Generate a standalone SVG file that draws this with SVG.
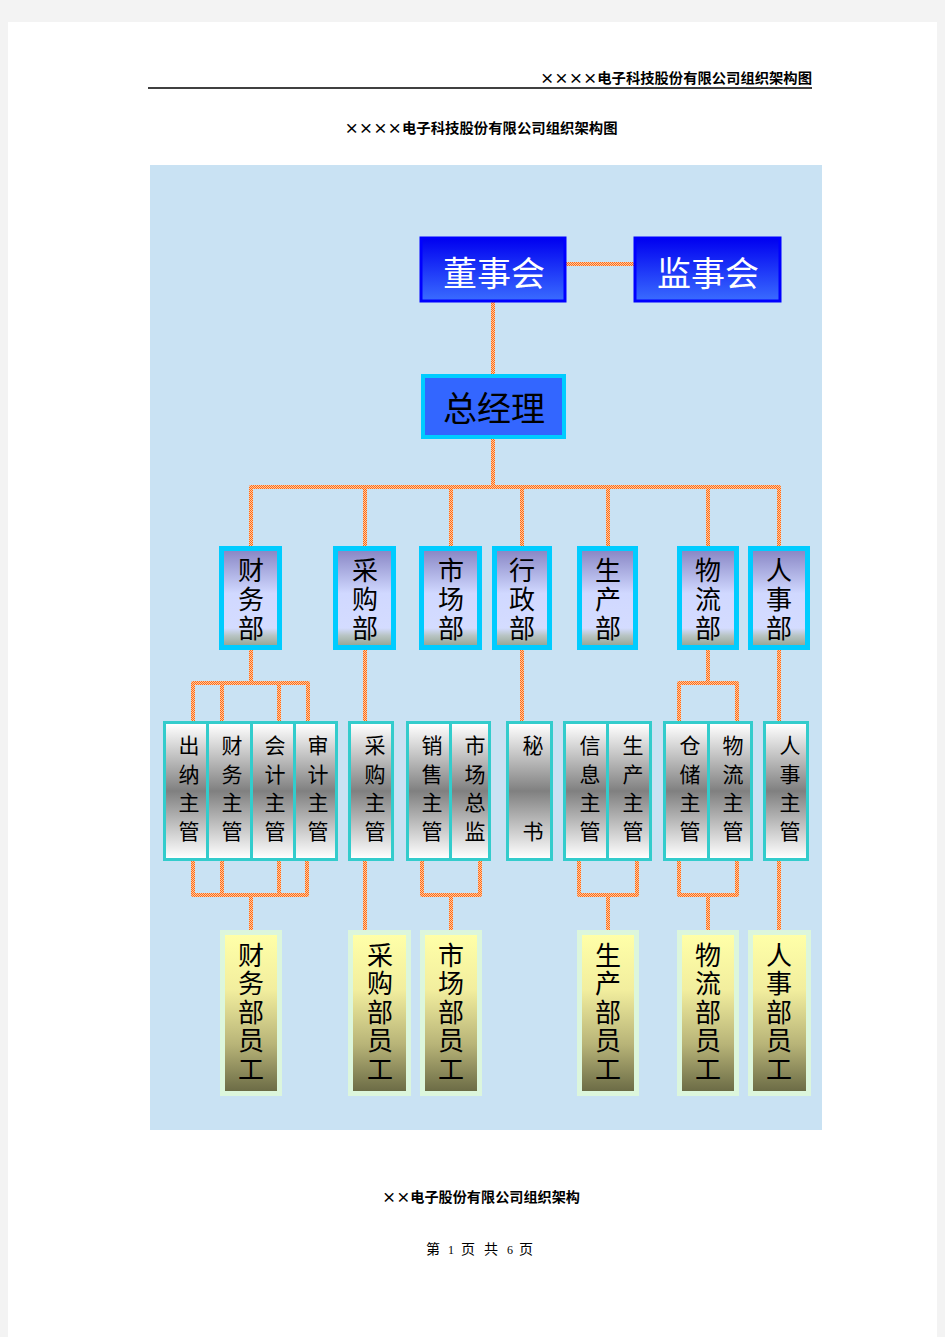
<svg xmlns="http://www.w3.org/2000/svg" width="945" height="1337" viewBox="0 0 945 1337">
<defs>
<pattern id="chk" width="2" height="2" patternUnits="userSpaceOnUse">
<rect width="2" height="2" fill="#ffc8a0"/>
<rect x="0" y="0" width="1" height="1" fill="#ff6a14"/>
<rect x="1" y="1" width="1" height="1" fill="#ff6a14"/>
</pattern>
<linearGradient id="gTop" x1="0" y1="0" x2="0" y2="1">
<stop offset="0" stop-color="#0000f0"/>
<stop offset="1" stop-color="#3a6cff"/>
</linearGradient>
<linearGradient id="gDept" x1="0" y1="0" x2="0" y2="1">
<stop offset="0" stop-color="#8a88c6"/>
<stop offset="0.45" stop-color="#d0d8ff"/>
<stop offset="0.82" stop-color="#d4dcff"/>
<stop offset="0.9" stop-color="#b8c4c4"/>
<stop offset="1" stop-color="#98a898"/>
</linearGradient>
<linearGradient id="gSub" x1="0" y1="0" x2="0" y2="1">
<stop offset="0" stop-color="#ffffff"/>
<stop offset="0.5" stop-color="#808080"/>
<stop offset="1" stop-color="#ffffff"/>
</linearGradient>
<linearGradient id="gEmp" x1="0" y1="0" x2="0" y2="1">
<stop offset="0" stop-color="#ffffa8"/>
<stop offset="0.35" stop-color="#f2ee9e"/>
<stop offset="0.7" stop-color="#b8b478"/>
<stop offset="1" stop-color="#6c6c46"/>
</linearGradient>
<style>
.cjk{font-family:"Noto Sans CJK SC","Noto Sans CJK TC",sans-serif;}
.hdr{font-size:14px;font-weight:bold;fill:#000;}
.top{font-size:34px;text-anchor:middle;}
.dept{font-size:26px;text-anchor:middle;fill:#000;}
.sub{font-size:21px;text-anchor:middle;fill:#000;}
.emp{font-size:26px;text-anchor:middle;fill:#000;}
.ft{font-size:14px;fill:#000;}
.num{font-family:"Liberation Serif",serif;font-size:12px;fill:#000;}
.conn{fill:none;stroke:url(#chk);stroke-width:4;stroke-linejoin:round;}
.deptB{fill:#00ccff;}
.subB{fill:#33cccc;}
.empB{fill:#dcf6dc;}
</style>
</defs>
<rect width="945" height="1337" fill="#f3f3f3"/>
<rect x="8" y="22" width="929" height="1315" fill="#ffffff"/>
<line x1="148" y1="88" x2="812" y2="88" stroke="#000" stroke-width="1.5"/>
<text class="cjk hdr" x="812" y="83" text-anchor="end" textLength="272" lengthAdjust="spacingAndGlyphs">××××电子科技股份有限公司组织架构图</text>
<text class="cjk hdr" x="481" y="133" text-anchor="middle" textLength="273" lengthAdjust="spacingAndGlyphs">××××电子科技股份有限公司组织架构图</text>
<rect x="150" y="165" width="672" height="965" fill="#c9e2f3"/>

<g id="connectors">
<path class="conn" d="M566,264 H634"/>
<path class="conn" d="M493,302 V374"/>
<path class="conn" d="M493,439 V487"/>
<path class="conn" d="M251,546 V487 H779 V546"/>
<path class="conn" d="M365,487 V546 M451,487 V546 M522,487 V546 M608,487 V546 M708,487 V546"/>
<path class="conn" d="M251,650 V683"/>
<path class="conn" d="M193,721 V683 H308 V721"/>
<path class="conn" d="M222,683 V721 M279,683 V721"/>
<path class="conn" d="M365,650 V721"/>
<path class="conn" d="M522,650 V721"/>
<path class="conn" d="M708,650 V683"/>
<path class="conn" d="M679,721 V683 H737 V721"/>
<path class="conn" d="M779,650 V721"/>
<path class="conn" d="M193,861 V895 H307 V861"/>
<path class="conn" d="M222,861 V895 M279,861 V895"/>
<path class="conn" d="M251,895 V931"/>
<path class="conn" d="M365,861 V931"/>
<path class="conn" d="M422,861 V895 H480 V861"/>
<path class="conn" d="M451,895 V931"/>
<path class="conn" d="M579,861 V895 H637 V861"/>
<path class="conn" d="M608,895 V931"/>
<path class="conn" d="M679,861 V895 H737 V861"/>
<path class="conn" d="M708,895 V931"/>
<path class="conn" d="M779,861 V931"/>
</g>

<g id="n-board">
<rect x="421" y="238" width="144" height="63" fill="url(#gTop)" stroke="#0000ff" stroke-width="3"/>
<text class="cjk top" x="494" y="286" fill="#ffffff">董事会</text>
</g>
<g id="n-supervisory">
<rect x="635" y="238" width="145" height="63" fill="url(#gTop)" stroke="#0000ff" stroke-width="3"/>
<text class="cjk top" x="708" y="286" fill="#ffffff">监事会</text>
</g>
<g id="n-gm">
<rect x="423" y="376" width="141" height="61" fill="#3366ff" stroke="#00ccff" stroke-width="4"/>
<text class="cjk top" x="494" y="421" fill="#000000">总经理</text>
</g>

<g id="n-finance">
<rect class="deptB" x="219" y="546" width="63" height="104"/>
<rect x="224" y="551" width="53" height="94" fill="url(#gDept)"/>
<text class="cjk dept"><tspan x="251" y="580">财</tspan><tspan x="251" y="609">务</tspan><tspan x="251" y="638">部</tspan></text>
</g>
<g id="n-purchase">
<rect class="deptB" x="333" y="546" width="63" height="104"/>
<rect x="338" y="551" width="53" height="94" fill="url(#gDept)"/>
<text class="cjk dept"><tspan x="365" y="580">采</tspan><tspan x="365" y="609">购</tspan><tspan x="365" y="638">部</tspan></text>
</g>
<g id="n-market">
<rect class="deptB" x="419" y="546" width="63" height="104"/>
<rect x="424" y="551" width="53" height="94" fill="url(#gDept)"/>
<text class="cjk dept"><tspan x="451" y="580">市</tspan><tspan x="451" y="609">场</tspan><tspan x="451" y="638">部</tspan></text>
</g>
<g id="n-admin">
<rect class="deptB" x="492" y="546" width="60" height="104"/>
<rect x="497" y="551" width="50" height="94" fill="url(#gDept)"/>
<text class="cjk dept"><tspan x="522" y="580">行</tspan><tspan x="522" y="609">政</tspan><tspan x="522" y="638">部</tspan></text>
</g>
<g id="n-production">
<rect class="deptB" x="577" y="546" width="61" height="104"/>
<rect x="582" y="551" width="51" height="94" fill="url(#gDept)"/>
<text class="cjk dept"><tspan x="608" y="580">生</tspan><tspan x="608" y="609">产</tspan><tspan x="608" y="638">部</tspan></text>
</g>
<g id="n-logistics">
<rect class="deptB" x="677" y="546" width="62" height="104"/>
<rect x="682" y="551" width="52" height="94" fill="url(#gDept)"/>
<text class="cjk dept"><tspan x="708" y="580">物</tspan><tspan x="708" y="609">流</tspan><tspan x="708" y="638">部</tspan></text>
</g>
<g id="n-hr">
<rect class="deptB" x="748" y="546" width="62" height="104"/>
<rect x="753" y="551" width="52" height="94" fill="url(#gDept)"/>
<text class="cjk dept"><tspan x="779" y="580">人</tspan><tspan x="779" y="609">事</tspan><tspan x="779" y="638">部</tspan></text>
</g>

<g id="n-finance-managers">
<rect class="subB" x="163" y="721" width="175" height="140"/>
<rect x="166" y="724" width="40" height="134" fill="url(#gSub)"/>
<rect x="209" y="724" width="41" height="134" fill="url(#gSub)"/>
<rect x="253" y="724" width="40" height="134" fill="url(#gSub)"/>
<rect x="296" y="724" width="39" height="134" fill="url(#gSub)"/>
<text class="cjk sub"><tspan x="189" y="753">出</tspan><tspan x="189" y="782">纳</tspan><tspan x="189" y="810">主</tspan><tspan x="189" y="839">管</tspan></text>
<text class="cjk sub"><tspan x="232" y="753">财</tspan><tspan x="232" y="782">务</tspan><tspan x="232" y="810">主</tspan><tspan x="232" y="839">管</tspan></text>
<text class="cjk sub"><tspan x="275" y="753">会</tspan><tspan x="275" y="782">计</tspan><tspan x="275" y="810">主</tspan><tspan x="275" y="839">管</tspan></text>
<text class="cjk sub"><tspan x="318" y="753">审</tspan><tspan x="318" y="782">计</tspan><tspan x="318" y="810">主</tspan><tspan x="318" y="839">管</tspan></text>
</g>
<g id="n-purchase-manager">
<rect class="subB" x="348" y="721" width="46" height="140"/>
<rect x="351" y="724" width="40" height="134" fill="url(#gSub)"/>
<text class="cjk sub"><tspan x="375" y="753">采</tspan><tspan x="375" y="782">购</tspan><tspan x="375" y="810">主</tspan><tspan x="375" y="839">管</tspan></text>
</g>
<g id="n-market-managers">
<rect class="subB" x="406" y="721" width="85" height="140"/>
<rect x="409" y="724" width="40" height="134" fill="url(#gSub)"/>
<rect x="452" y="724" width="36" height="134" fill="url(#gSub)"/>
<text class="cjk sub"><tspan x="432" y="753">销</tspan><tspan x="432" y="782">售</tspan><tspan x="432" y="810">主</tspan><tspan x="432" y="839">管</tspan></text>
<text class="cjk sub"><tspan x="475" y="753">市</tspan><tspan x="475" y="782">场</tspan><tspan x="475" y="810">总</tspan><tspan x="475" y="839">监</tspan></text>
</g>
<g id="n-secretary">
<rect class="subB" x="506" y="721" width="47" height="140"/>
<rect x="509" y="724" width="41" height="134" fill="url(#gSub)"/>
<text class="cjk sub"><tspan x="533" y="753">秘</tspan><tspan x="533" y="839">书</tspan></text>
</g>
<g id="n-production-managers">
<rect class="subB" x="563" y="721" width="89" height="140"/>
<rect x="566" y="724" width="40" height="134" fill="url(#gSub)"/>
<rect x="609" y="724" width="40" height="134" fill="url(#gSub)"/>
<text class="cjk sub"><tspan x="590" y="753">信</tspan><tspan x="590" y="782">息</tspan><tspan x="590" y="810">主</tspan><tspan x="590" y="839">管</tspan></text>
<text class="cjk sub"><tspan x="633" y="753">生</tspan><tspan x="633" y="782">产</tspan><tspan x="633" y="810">主</tspan><tspan x="633" y="839">管</tspan></text>
</g>
<g id="n-logistics-managers">
<rect class="subB" x="663" y="721" width="90" height="140"/>
<rect x="666" y="724" width="41" height="134" fill="url(#gSub)"/>
<rect x="710" y="724" width="40" height="134" fill="url(#gSub)"/>
<text class="cjk sub"><tspan x="690" y="753">仓</tspan><tspan x="690" y="782">储</tspan><tspan x="690" y="810">主</tspan><tspan x="690" y="839">管</tspan></text>
<text class="cjk sub"><tspan x="733" y="753">物</tspan><tspan x="733" y="782">流</tspan><tspan x="733" y="810">主</tspan><tspan x="733" y="839">管</tspan></text>
</g>
<g id="n-hr-manager">
<rect class="subB" x="763" y="721" width="46" height="140"/>
<rect x="766" y="724" width="40" height="134" fill="url(#gSub)"/>
<text class="cjk sub"><tspan x="790" y="753">人</tspan><tspan x="790" y="782">事</tspan><tspan x="790" y="810">主</tspan><tspan x="790" y="839">管</tspan></text>
</g>

<g id="n-finance-staff">
<rect class="empB" x="220" y="930" width="62" height="166"/>
<rect x="225" y="935" width="52" height="156" fill="url(#gEmp)"/>
<text class="cjk emp"><tspan x="251" y="965">财</tspan><tspan x="251" y="993">务</tspan><tspan x="251" y="1022">部</tspan><tspan x="251" y="1050">员</tspan><tspan x="251" y="1079">工</tspan></text>
</g>
<g id="n-purchase-staff">
<rect class="empB" x="348" y="930" width="63" height="166"/>
<rect x="353" y="935" width="53" height="156" fill="url(#gEmp)"/>
<text class="cjk emp"><tspan x="380" y="965">采</tspan><tspan x="380" y="993">购</tspan><tspan x="380" y="1022">部</tspan><tspan x="380" y="1050">员</tspan><tspan x="380" y="1079">工</tspan></text>
</g>
<g id="n-market-staff">
<rect class="empB" x="420" y="930" width="62" height="166"/>
<rect x="425" y="935" width="52" height="156" fill="url(#gEmp)"/>
<text class="cjk emp"><tspan x="451" y="965">市</tspan><tspan x="451" y="993">场</tspan><tspan x="451" y="1022">部</tspan><tspan x="451" y="1050">员</tspan><tspan x="451" y="1079">工</tspan></text>
</g>
<g id="n-production-staff">
<rect class="empB" x="577" y="930" width="62" height="166"/>
<rect x="582" y="935" width="52" height="156" fill="url(#gEmp)"/>
<text class="cjk emp"><tspan x="608" y="965">生</tspan><tspan x="608" y="993">产</tspan><tspan x="608" y="1022">部</tspan><tspan x="608" y="1050">员</tspan><tspan x="608" y="1079">工</tspan></text>
</g>
<g id="n-logistics-staff">
<rect class="empB" x="677" y="930" width="62" height="166"/>
<rect x="682" y="935" width="52" height="156" fill="url(#gEmp)"/>
<text class="cjk emp"><tspan x="708" y="965">物</tspan><tspan x="708" y="993">流</tspan><tspan x="708" y="1022">部</tspan><tspan x="708" y="1050">员</tspan><tspan x="708" y="1079">工</tspan></text>
</g>
<g id="n-hr-staff">
<rect class="empB" x="748" y="930" width="63" height="166"/>
<rect x="753" y="935" width="53" height="156" fill="url(#gEmp)"/>
<text class="cjk emp"><tspan x="779" y="965">人</tspan><tspan x="779" y="993">事</tspan><tspan x="779" y="1022">部</tspan><tspan x="779" y="1050">员</tspan><tspan x="779" y="1079">工</tspan></text>
</g>

<text class="cjk hdr" x="481" y="1202" text-anchor="middle" textLength="198" lengthAdjust="spacingAndGlyphs">××电子股份有限公司组织架构</text>
<text class="cjk ft" y="1254"><tspan x="426">第</tspan><tspan class="num" x="448">1</tspan><tspan x="461">页</tspan><tspan x="484">共</tspan><tspan class="num" x="507">6</tspan><tspan x="519">页</tspan></text>
</svg>
